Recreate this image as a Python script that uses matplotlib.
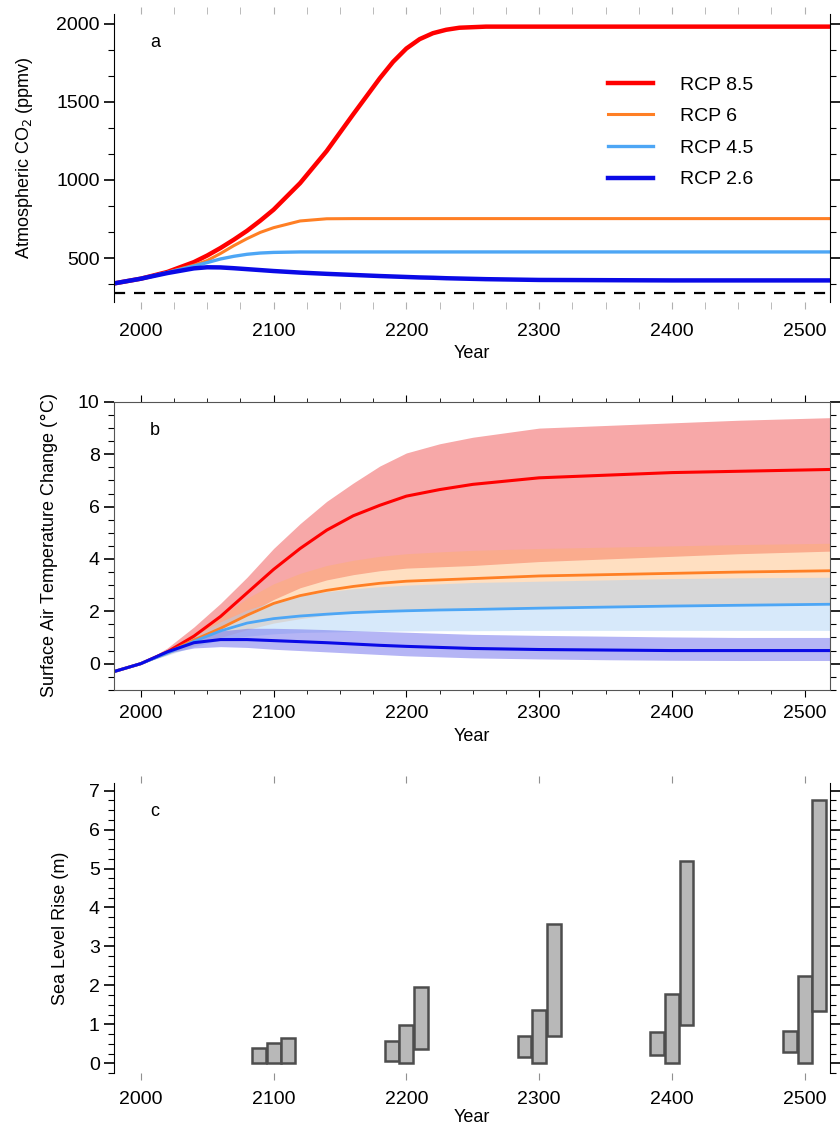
import matplotlib
matplotlib.use("Agg")
import matplotlib.pyplot as plt
from matplotlib.ticker import MultipleLocator

plt.rcParams['font.family'] = ['Liberation Sans', 'DejaVu Sans']

# panel a: atmospheric CO2 (ppmv)
co2_years = [1980, 2000, 2020, 2040, 2050, 2060, 2070, 2080, 2090, 2100,
             2120, 2140, 2160, 2180, 2190, 2200, 2210, 2220, 2230, 2240,
             2260, 2300, 2400, 2520]
rcp85_co2 = [339, 369, 412, 475, 517, 565, 618, 675, 740, 810,
             980, 1185, 1420, 1650, 1755, 1840, 1900, 1938, 1960, 1973,
             1980, 1980, 1980, 1980]
rcp6_co2 = [339, 369, 410, 455, 485, 530, 580, 625, 665, 695,
            738, 752, 753, 753, 753, 753, 753, 753, 753, 753,
            753, 753, 753, 753]
rcp45_co2 = [339, 369, 408, 450, 472, 495, 512, 525, 533, 537,
             540, 540, 540, 540, 540, 540, 540, 540, 540, 540,
             540, 540, 540, 540]
rcp26_co2 = [339, 369, 405, 435, 442, 441, 436, 430, 424, 418,
             408, 400, 393, 386, 383, 380, 377, 375, 372, 370,
             366, 361, 358, 358]
preindustrial_co2 = 280

# panel b: surface air temperature change (deg C), mean and range
temp_years = [1980, 2000, 2020, 2040, 2060, 2080, 2100, 2120, 2140, 2160,
              2180, 2200, 2225, 2250, 2300, 2350, 2400, 2450, 2520]
rcp85_t = [-0.3, 0.0, 0.45, 1.05, 1.8, 2.7, 3.6, 4.4, 5.1, 5.65,
           6.05, 6.4, 6.65, 6.85, 7.1, 7.2, 7.3, 7.35, 7.42]
rcp85_hi = [-0.3, 0.0, 0.6, 1.4, 2.3, 3.3, 4.4, 5.35, 6.2, 6.9,
            7.55, 8.05, 8.4, 8.65, 9.0, 9.1, 9.2, 9.3, 9.4]
rcp85_lo = [-0.3, 0.0, 0.35, 0.8, 1.3, 1.9, 2.45, 2.9, 3.2, 3.4,
            3.55, 3.65, 3.7, 3.75, 3.9, 4.0, 4.1, 4.2, 4.3]
rcp6_t = [-0.3, 0.0, 0.42, 0.9, 1.35, 1.85, 2.3, 2.6, 2.8, 2.95,
          3.07, 3.15, 3.2, 3.25, 3.35, 3.4, 3.45, 3.5, 3.55]
rcp6_hi = [-0.3, 0.0, 0.5, 1.15, 1.8, 2.5, 3.05, 3.45, 3.75, 3.95,
           4.1, 4.2, 4.27, 4.33, 4.4, 4.45, 4.5, 4.55, 4.6]
rcp6_lo = [-0.3, 0.0, 0.35, 0.7, 1.0, 1.3, 1.55, 1.72, 1.85, 1.95,
           2.0, 2.05, 2.08, 2.1, 2.15, 2.2, 2.22, 2.25, 2.3]
rcp45_t = [-0.3, 0.0, 0.4, 0.85, 1.25, 1.55, 1.72, 1.82, 1.89, 1.95,
           1.99, 2.02, 2.05, 2.07, 2.12, 2.16, 2.2, 2.23, 2.27]
rcp45_hi = [-0.3, 0.0, 0.48, 1.05, 1.6, 2.05, 2.38, 2.6, 2.75, 2.86,
            2.94, 3.0, 3.05, 3.1, 3.15, 3.2, 3.25, 3.28, 3.3]
rcp45_lo = [-0.3, 0.0, 0.32, 0.65, 0.9, 1.05, 1.14, 1.19, 1.21, 1.23,
            1.24, 1.25, 1.26, 1.26, 1.27, 1.27, 1.27, 1.27, 1.27]
rcp26_t = [-0.3, 0.0, 0.45, 0.8, 0.92, 0.92, 0.88, 0.84, 0.8, 0.75,
           0.7, 0.66, 0.62, 0.58, 0.54, 0.52, 0.5, 0.5, 0.5]
rcp26_hi = [-0.3, 0.0, 0.5, 1.0, 1.25, 1.35, 1.35, 1.33, 1.3, 1.26,
            1.23, 1.2, 1.16, 1.12, 1.08, 1.05, 1.02, 1.0, 1.0]
rcp26_lo = [-0.3, 0.0, 0.4, 0.6, 0.65, 0.62, 0.55, 0.5, 0.45, 0.4,
            0.35, 0.3, 0.26, 0.22, 0.18, 0.15, 0.13, 0.12, 0.12]

# panel c: sea level rise ranges (m)
slr_years = [2100, 2200, 2300, 2400, 2500]
slr1_lo = [0.0, 0.05, 0.15, 0.2, 0.28]
slr1_hi = [0.38, 0.56, 0.71, 0.79, 0.84]
slr2_lo = [0.0, 0.0, 0.0, 0.0, 0.0]
slr2_hi = [0.53, 0.97, 1.38, 1.79, 2.24]
slr3_lo = [0.0, 0.36, 0.69, 0.97, 1.33]
slr3_hi = [0.66, 1.96, 3.57, 5.2, 6.76]

year_ticks = [2000, 2100, 2200, 2300, 2400, 2500]

C85 = '#ff0000'
C6 = '#ff7f24'
C45 = '#4da6f5'
C26 = '#0a0ae6'

fig = plt.figure(figsize=(8.4, 11.29), dpi=100)
ax_a = fig.add_axes([0.136, 0.7325, 0.852, 0.255])
ax_b = fig.add_axes([0.136, 0.389, 0.852, 0.255])
ax_c = fig.add_axes([0.136, 0.0496, 0.852, 0.257])

for ax in (ax_a, ax_b, ax_c):
  ax.set_xlim(1980, 2519)
  ax.set_xticks(year_ticks)
  ax.tick_params(axis='both', labelsize=14)
  ax.tick_params(axis='y', which='major', direction='out', length=7,
                 width=1.2, left=True, right=True)
  ax.tick_params(axis='y', which='minor', direction='out', length=4,
                 width=0.8, left=True, right=True)

# ---- panel a
ax_a.plot(co2_years, rcp85_co2, color=C85, lw=3.2, label='RCP 8.5')
ax_a.plot(co2_years, rcp6_co2, color=C6, lw=2.2, label='RCP 6')
ax_a.plot(co2_years, rcp45_co2, color=C45, lw=2.4, label='RCP 4.5')
ax_a.plot(co2_years, rcp26_co2, color=C26, lw=3.2, label='RCP 2.6')
ax_a.axhline(preindustrial_co2, color='black', lw=1.6, ls=(0, (5, 4)))
ax_a.set_ylim(220, 2060)
ax_a.set_yticks([500, 1000, 1500, 2000])
ax_a.yaxis.set_minor_locator(MultipleLocator(500 / 3.0))
ax_a.set_ylabel('Atmospheric CO$_2$ (ppmv)', fontsize=13, labelpad=15)
ax_a.set_xlabel('Year', fontsize=13, labelpad=4)
ax_a.spines['top'].set_visible(False)
ax_a.spines['bottom'].set_visible(False)
ax_a.xaxis.set_minor_locator(MultipleLocator(25))
ax_a.tick_params(axis='x', which='both', direction='out', top=True,
                 bottom=True, length=5, color='#b0b0b0', pad=10)
ax_a.text(0.05, 0.93, 'a', transform=ax_a.transAxes, fontsize=13,
          va='top')
ax_a.legend(loc='upper left', bbox_to_anchor=(0.69, 0.785), frameon=False,
            fontsize=14, handlelength=2.3, handletextpad=1.4,
            labelspacing=0.72, borderpad=0, borderaxespad=0)

# ---- panel b
ax_b.fill_between(temp_years, rcp85_lo, rcp85_hi, color='#f7a3a3',
                  lw=0, alpha=0.95)
ax_b.fill_between(temp_years, rcp6_lo, rcp6_hi, color='#ffb066',
                  lw=0, alpha=0.4)
ax_b.fill_between(temp_years, rcp45_lo, rcp45_hi, color='#a8cff5',
                  lw=0, alpha=0.45)
ax_b.fill_between(temp_years, rcp26_lo, rcp26_hi, color='#7878ee',
                  lw=0, alpha=0.55)
ax_b.plot(temp_years, rcp85_t, color=C85, lw=2.2)
ax_b.plot(temp_years, rcp6_t, color=C6, lw=2.0)
ax_b.plot(temp_years, rcp45_t, color=C45, lw=2.0)
ax_b.plot(temp_years, rcp26_t, color=C26, lw=2.2)
ax_b.set_ylim(-1, 10)
ax_b.set_yticks([0, 2, 4, 6, 8, 10])
ax_b.yaxis.set_minor_locator(MultipleLocator(0.5))
ax_b.set_ylabel('Surface Air Temperature Change ($\\degree$C)', fontsize=13,
                labelpad=13)
ax_b.set_xlabel('Year', fontsize=13, labelpad=4)
ax_b.xaxis.set_minor_locator(MultipleLocator(25))
ax_b.tick_params(axis='x', which='major', direction='out', top=True,
                 length=5, pad=6)
ax_b.tick_params(axis='x', which='minor', direction='out', top=True,
                 length=3)
for sp in ax_b.spines.values():
  sp.set_color('#555555')
ax_b.text(0.05, 0.93, 'b', transform=ax_b.transAxes, fontsize=13,
          va='top')

# ---- panel c
bar_w = 10.5
for offset, lo, hi in ((-11, slr1_lo, slr1_hi), (0, slr2_lo, slr2_hi),
                       (11, slr3_lo, slr3_hi)):
  xs = [y + offset for y in slr_years]
  heights = [h - l for l, h in zip(lo, hi)]
  ax_c.bar(xs, heights, bottom=lo, width=bar_w, color='#b8b8b8',
           edgecolor='#4d4d4d', linewidth=1.8)
ax_c.set_ylim(-0.25, 7.2)
ax_c.set_yticks(range(0, 8))
ax_c.yaxis.set_minor_locator(MultipleLocator(0.25))
ax_c.set_ylabel('Sea Level Rise (m)', fontsize=13, labelpad=14)
ax_c.set_xlabel('Year', fontsize=13, labelpad=1)
ax_c.spines['top'].set_visible(False)
ax_c.spines['bottom'].set_visible(False)
ax_c.tick_params(axis='x', which='major', direction='out', top=True,
                 bottom=True, length=5, color='#909090', pad=8)
ax_c.text(0.05, 0.93, 'c', transform=ax_c.transAxes, fontsize=13,
          va='top')

fig.savefig('out.png', dpi=100)
